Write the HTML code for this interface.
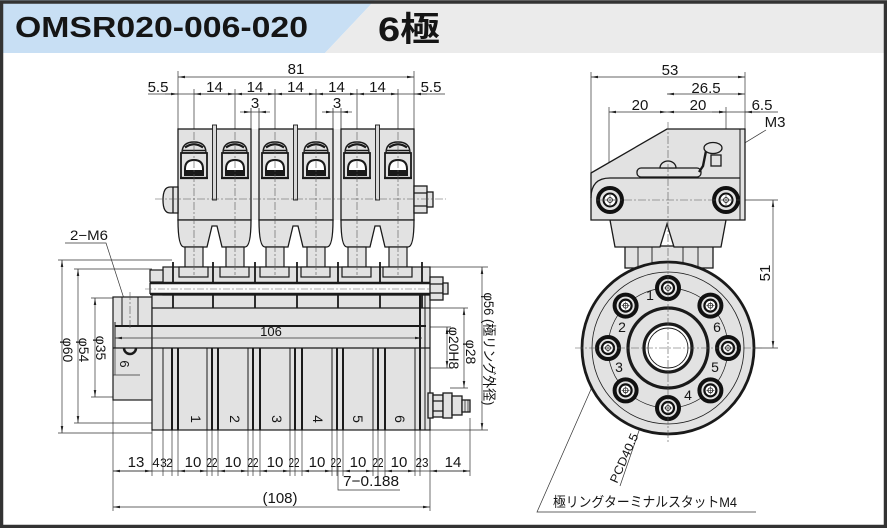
<!DOCTYPE html>
<html><head><meta charset="utf-8">
<style>
html,body{margin:0;padding:0;background:#fff;}
svg{display:block;}
text{font-family:"Liberation Sans","Noto Sans CJK JP",sans-serif;fill:#151515;}
</style></head><body>
<svg width="887" height="528" viewBox="0 0 887 528" xmlns="http://www.w3.org/2000/svg">
<defs>
<marker id="a" viewBox="0 0 10 10" refX="10" refY="5" markerUnits="userSpaceOnUse" markerWidth="7" markerHeight="7" orient="auto-start-reverse"><path d="M0,3.2 L10,5 L0,6.8 z" fill="#222"/></marker>
<g id="hd">
 <path d="M-12,153 Q-12,142 0,142 Q12,142 12,153 Z" fill="#e2e2e2" stroke="#1a1a1a" stroke-width="1.4"/>
 <path d="M-9,147.5 Q0,141 9,147.5" stroke="#1a1a1a" stroke-width="2.2" fill="none"/>
 <line x1="-11" y1="150.5" x2="11" y2="150.5" stroke="#1a1a1a" stroke-width="1.4"/>
 <rect x="-13" y="153" width="26" height="25" fill="#e2e2e2" stroke="#1a1a1a" stroke-width="1.8"/>
 <path d="M-9,175 V169 Q-9,160 0,160 Q9,160 9,169 V175 Z" fill="#fff" stroke="#1a1a1a" stroke-width="2"/>
 <rect x="-9" y="170" width="18" height="5" fill="#1a1a1a"/>
 <line x1="-14" y1="178" x2="14" y2="178" stroke="#1a1a1a" stroke-width="2.2"/>
</g>
<g id="sf">
 <rect x="-9" y="247" width="18" height="20" fill="#e2e2e2" stroke="#1a1a1a" stroke-width="1.2"/>
</g>
<g id="ft">
 <rect x="-15" y="267" width="29" height="10" fill="#e2e2e2" stroke="#1a1a1a" stroke-width="1.2"/>
</g>
<g id="hole">
 <circle r="11" fill="#e2e2e2" stroke="#111" stroke-width="4"/>
 <circle r="6" fill="#fff" stroke="#111" stroke-width="2.2"/>
 <circle r="2.5" fill="none" stroke="#111" stroke-width="0.8"/>
 <path d="M-4,0H4M0,-4V4" stroke="#111" stroke-width="0.5"/>
</g>
<g id="bolt">
 <circle r="12" fill="#e2e2e2" stroke="#111" stroke-width="4"/>
 <circle r="6.5" fill="#fff" stroke="#111" stroke-width="2"/>
 <circle r="2.5" fill="none" stroke="#111" stroke-width="0.8"/>
 <path d="M-5,0H5M0,-5V5" stroke="#111" stroke-width="0.5"/>
</g>
</defs>
<rect width="887" height="528" fill="#fff"/>

<!-- header -->
<polygon points="0,0 375,0 325,53 0,53" fill="#c8dff4"/>
<polygon points="375,0 887,0 887,53 325,53" fill="#ebebeb"/>
<rect x="1.5" y="2" width="884" height="524.5" fill="none" stroke="#333" stroke-width="3.5"/>
<text x="15" y="37" font-size="29" font-weight="bold" textLength="293" lengthAdjust="spacingAndGlyphs">OMSR020-006-020</text>
<text x="378" y="41" font-size="34" font-weight="bold" textLength="62" lengthAdjust="spacingAndGlyphs">6極</text>

<!-- ================= LEFT VIEW : dimensions ================= -->
<g stroke="#333" stroke-width="0.7" fill="none">
 <path d="M178,71V129 M414,71V129 M194,89V129 M235,89V129 M275,89V129 M316,89V129 M357,89V129 M398,89V129"/>
 <line x1="178" y1="77" x2="414" y2="77" marker-start="url(#a)" marker-end="url(#a)"/>
 <line x1="148" y1="94" x2="445" y2="94"/>
 <line x1="194" y1="94" x2="235" y2="94" marker-start="url(#a)" marker-end="url(#a)"/>
 <line x1="235" y1="94" x2="275" y2="94" marker-start="url(#a)" marker-end="url(#a)"/>
 <line x1="275" y1="94" x2="316" y2="94" marker-start="url(#a)" marker-end="url(#a)"/>
 <line x1="316" y1="94" x2="357" y2="94" marker-start="url(#a)" marker-end="url(#a)"/>
 <line x1="357" y1="94" x2="398" y2="94" marker-start="url(#a)" marker-end="url(#a)"/>
 <line x1="165" y1="94" x2="178" y2="94" marker-end="url(#a)"/>
 <line x1="427" y1="94" x2="414" y2="94" marker-end="url(#a)"/>
 <line x1="240" y1="112" x2="251" y2="112" marker-end="url(#a)"/>
 <line x1="270" y1="112" x2="259" y2="112" marker-end="url(#a)"/>
 <line x1="322" y1="112" x2="333" y2="112" marker-end="url(#a)"/>
 <line x1="352" y1="112" x2="341" y2="112" marker-end="url(#a)"/>
 <line x1="251" y1="112" x2="259" y2="112"/>
 <line x1="333" y1="112" x2="341" y2="112"/>

 <!-- left phi dims -->
 <path d="M58,260H172 M74,269H152 M91,298H113 M91,397H113 M74,423H152 M58,433H152"/>
 <line x1="62" y1="260" x2="62" y2="433" marker-start="url(#a)" marker-end="url(#a)"/>
 <line x1="78" y1="269" x2="78" y2="423" marker-start="url(#a)" marker-end="url(#a)"/>
 <line x1="95" y1="298" x2="95" y2="397" marker-start="url(#a)" marker-end="url(#a)"/>
 <!-- 2-M6 leader -->
 <path d="M65,243H106 L127,308"/>
 <!-- right phi dims -->
 <path d="M430,267H488 M430,430H488 M430,308H468 M450,388H468 M425,327H451 M425,368H451"/>
 <line x1="482" y1="267" x2="482" y2="430" marker-start="url(#a)" marker-end="url(#a)"/>
 <line x1="464" y1="308" x2="464" y2="388" marker-start="url(#a)" marker-end="url(#a)"/>
 <line x1="447" y1="327" x2="447" y2="368" marker-start="url(#a)" marker-end="url(#a)"/>

 <!-- bottom ext lines -->
 <path d="M113,400V511 M430,430V511 M470,418V476 M152,430V476 M163,430V476 M172,430V476 M178,430V476 M207,430V476 M212,430V476 M218,430V476 M248,430V476 M253,430V476 M260,430V476 M290,430V476 M295,430V476 M302,430V476 M332,430V476 M337,430V476 M343,430V476 M373,430V476 M378,430V476 M385,430V476 M415,430V476 M420,430V476"/>
 <line x1="113" y1="471" x2="470" y2="471"/>
 <line x1="113" y1="471" x2="152" y2="471" marker-start="url(#a)" marker-end="url(#a)"/>
 <line x1="178" y1="471" x2="207" y2="471" marker-start="url(#a)" marker-end="url(#a)"/>
 <line x1="218" y1="471" x2="248" y2="471" marker-start="url(#a)" marker-end="url(#a)"/>
 <line x1="260" y1="471" x2="290" y2="471" marker-start="url(#a)" marker-end="url(#a)"/>
 <line x1="302" y1="471" x2="332" y2="471" marker-start="url(#a)" marker-end="url(#a)"/>
 <line x1="343" y1="471" x2="373" y2="471" marker-start="url(#a)" marker-end="url(#a)"/>
 <line x1="385" y1="471" x2="415" y2="471" marker-start="url(#a)" marker-end="url(#a)"/>
 <line x1="430" y1="471" x2="470" y2="471" marker-start="url(#a)" marker-end="url(#a)"/>
 <line x1="113" y1="507" x2="430" y2="507" marker-start="url(#a)" marker-end="url(#a)"/>
 <path d="M338,466V490H400"/>
</g>

<!-- ================= LEFT VIEW : body ================= -->
<g stroke="#1a1a1a" stroke-width="1.2" fill="#e2e2e2">
 <rect x="113" y="297" width="39" height="103"/>
 <rect x="152" y="295" width="278" height="135"/>
 <rect x="163" y="267" width="267" height="28"/>
 <rect x="150" y="270" width="13" height="12"/>
</g>
<rect x="150" y="283" width="282" height="11" fill="#fafafa"/>
<g stroke="#1a1a1a" fill="none">
 <line x1="150" y1="283" x2="432" y2="283" stroke-width="2.5"/>
 <line x1="150" y1="294" x2="432" y2="294" stroke-width="2.5"/>
 <line x1="150" y1="283" x2="150" y2="294" stroke-width="1.2"/>
 <line x1="152" y1="308" x2="430" y2="308" stroke-width="1.2"/>
 <path d="M173,262V282 M213,262V282 M255,262V282 M297,262V282 M338,262V282 M380,262V282 M422,262V282 M173,295V308 M213,295V308 M255,295V308 M297,295V308 M338,295V308 M380,295V308 M422,295V308" stroke-width="1.8"/>
 <line x1="115" y1="326" x2="426" y2="326" stroke-width="2"/>
 <line x1="115" y1="322" x2="115" y2="348" stroke-width="1"/>
 <line x1="113" y1="348" x2="430" y2="348" stroke-width="1.2"/>
 <path d="M122,297V327 M138,297V327" stroke-width="1"/>
 <path d="M124,348 A6,6 0 0 0 136,348" stroke-width="2.5"/>
 <path d="M115,348V375 M113,375H140" stroke-width="0.7" stroke="#333"/>
 <path d="M163,348V430 M207,348V430 M248,348V430 M290,348V430 M332,348V430 M373,348V430 M415,348V430 M425,295V430" stroke-width="1"/>
 <path d="M172,348V430 M178,348V430 M212,348V430 M218,348V430 M253,348V430 M260,348V430 M295,348V430 M302,348V430 M337,348V430 M343,348V430 M378,348V430 M385,348V430 M420,295V430" stroke-width="2"/>
</g>
<line x1="115" y1="338" x2="422" y2="338" stroke="#333" stroke-width="0.7" marker-start="url(#a)" marker-end="url(#a)"/>
<line x1="145" y1="289" x2="440" y2="289" stroke="#666" stroke-width="0.6" stroke-dasharray="7,2,2,2"/>

<!-- right studs -->
<g stroke="#1a1a1a" stroke-width="1.3" fill="#e2e2e2">
 <rect x="430" y="277" width="13" height="23"/>
 <path d="M430,284H443 M430,293H443" fill="none"/>
 <rect x="443" y="283" width="5" height="11"/>
 <rect x="428" y="393" width="5" height="25"/>
 <rect x="433" y="395" width="10" height="22"/>
 <path d="M433,401H443 M433,411H443" fill="none"/>
 <rect x="443" y="393" width="9" height="25"/>
 <rect x="452" y="396" width="10" height="19"/>
 <rect x="462" y="400" width="8" height="12"/>
 <path d="M465,400V412 M468,400V412" fill="none" stroke-width="0.7"/>
</g>

<!-- gaps between blocks -->
<rect x="251" y="129" width="8" height="91" fill="#ececec"/>
<rect x="333" y="129" width="8" height="91" fill="#ececec"/>
<path d="M251,108V220 M259,108V220 M333,108V220 M341,108V220" stroke="#333" stroke-width="0.8" fill="none"/>

<!-- upper blocks -->
<g stroke="#1a1a1a" stroke-width="1.3" fill="#e2e2e2">
 <rect x="178" y="129" width="73" height="91"/>
 <rect x="259" y="129" width="74" height="91"/>
 <rect x="341" y="129" width="73" height="91"/>
 <path d="M178,220 C178,238 180,247 184,247 L207,247 L212,226 L217,226 L222,247 L245,247 C249,247 251,238 251,220 Z"/>
 <path d="M259,220 C259,238 261,247 265,247 L288,247 L293,226 L298,226 L303,247 L327,247 C331,247 333,238 333,220 Z"/>
 <path d="M341,220 C341,238 343,247 347,247 L370,247 L375,226 L380,226 L385,247 L408,247 C412,247 414,238 414,220 Z"/>
 <rect x="212.5" y="125" width="4" height="75" fill="#d8d8d8" stroke-width="0.9"/>
 <rect x="293.5" y="125" width="4" height="75" fill="#d8d8d8" stroke-width="0.9"/>
 <rect x="375.5" y="125" width="4" height="75" fill="#d8d8d8" stroke-width="0.9"/>
 <path d="M178,187 L170,187 Q163,187 163,200 Q163,213 170,213 L178,213 Z"/>
 <line x1="173" y1="187" x2="173" y2="213"/>
 <rect x="414" y="186" width="13" height="27"/>
 <path d="M414,193H427 M414,206H427" fill="none"/>
 <rect x="427" y="192" width="6" height="15"/>
</g>
<use href="#sf" x="194"/><use href="#sf" x="235"/><use href="#sf" x="275"/><use href="#sf" x="316"/><use href="#sf" x="357"/><use href="#sf" x="398"/>
<use href="#ft" x="194"/><use href="#ft" x="235"/><use href="#ft" x="275"/><use href="#ft" x="316"/><use href="#ft" x="357"/><use href="#ft" x="398"/>
<use href="#hd" x="194"/><use href="#hd" x="235"/><use href="#hd" x="275"/><use href="#hd" x="316"/><use href="#hd" x="357"/><use href="#hd" x="398"/>

<g stroke="#555" stroke-width="0.6" stroke-dasharray="8,2,2,2" fill="none">
 <path d="M155,199H446 M194,132V275 M235,132V275 M275,132V275 M316,132V275 M357,132V275 M398,132V275 M130,292V330"/>
</g>

<g font-size="15" text-anchor="middle">
 <text x="296" y="74">81</text>
 <text x="158" y="92">5.5</text>
 <text x="431" y="92">5.5</text>
 <text x="214.5" y="92">14</text>
 <text x="255" y="92">14</text>
 <text x="295.5" y="92">14</text>
 <text x="336.5" y="92">14</text>
 <text x="377.5" y="92">14</text>
 <text x="255" y="108">3</text>
 <text x="337" y="108">3</text>
 <text x="271" y="336" font-size="13">106</text>
 <text x="280" y="503">(108)</text>
</g>
<g font-size="15" text-anchor="middle">
 <text x="136" y="467">13</text>
 <text x="156" y="467" font-size="13">4</text>
 <text x="163.5" y="467" font-size="12">3</text>
 <text x="169.5" y="467" font-size="12">2</text>
 <text x="193" y="467">10</text>
 <text x="212" y="467" font-size="13" textLength="11" lengthAdjust="spacingAndGlyphs">22</text>
 <text x="233" y="467">10</text>
 <text x="253" y="467" font-size="13" textLength="11" lengthAdjust="spacingAndGlyphs">22</text>
 <text x="275" y="467">10</text>
 <text x="294" y="467" font-size="13" textLength="11" lengthAdjust="spacingAndGlyphs">22</text>
 <text x="317" y="467">10</text>
 <text x="336" y="467" font-size="13" textLength="11" lengthAdjust="spacingAndGlyphs">22</text>
 <text x="358" y="467">10</text>
 <text x="378" y="467" font-size="13" textLength="11" lengthAdjust="spacingAndGlyphs">22</text>
 <text x="399" y="467">10</text>
 <text x="422" y="467" font-size="13" textLength="13" lengthAdjust="spacingAndGlyphs">23</text>
 <text x="453" y="467">14</text>
</g>
<text x="343" y="486" font-size="15" textLength="56" lengthAdjust="spacingAndGlyphs">7−0.188</text>
<text x="70" y="240" font-size="14" textLength="38" lengthAdjust="spacingAndGlyphs">2−M6</text>
<g font-size="14" text-anchor="middle">
 <text transform="translate(63,350) rotate(90)">φ60</text>
 <text transform="translate(79,350) rotate(90)">φ54</text>
 <text transform="translate(96,348) rotate(90)">φ35</text>
 <text transform="translate(120,364) rotate(90)" font-size="13">6</text>
 <text transform="translate(484,349) rotate(90)" textLength="113" lengthAdjust="spacingAndGlyphs">φ56 (極リング外径)</text>
 <text transform="translate(466,352) rotate(90)">φ28</text>
 <text transform="translate(449,348) rotate(90)">φ20H8</text>
 <text transform="translate(191,419) rotate(90)">1</text>
 <text transform="translate(230,419) rotate(90)">2</text>
 <text transform="translate(272,419) rotate(90)">3</text>
 <text transform="translate(313,419) rotate(90)">4</text>
 <text transform="translate(353,419) rotate(90)">5</text>
 <text transform="translate(395,419) rotate(90)">6</text>
</g>

<!-- ================= RIGHT VIEW ================= -->
<g stroke="#333" stroke-width="0.7" fill="none">
 <path d="M591,72V173 M745,72V129 M609,107V200 M726,107V200 M740,200H778 M745,348H778"/>
 <line x1="591" y1="77" x2="745" y2="77" marker-start="url(#a)" marker-end="url(#a)"/>
 <line x1="667" y1="94" x2="745" y2="94" marker-start="url(#a)" marker-end="url(#a)"/>
 <line x1="609" y1="112" x2="667" y2="112" marker-start="url(#a)" marker-end="url(#a)"/>
 <line x1="667" y1="112" x2="726" y2="112" marker-start="url(#a)" marker-end="url(#a)"/>
 <line x1="726" y1="112" x2="778" y2="112"/>
 <line x1="712" y1="112" x2="726" y2="112" marker-end="url(#a)"/>
 <line x1="760" y1="112" x2="745" y2="112" marker-end="url(#a)"/>
 <line x1="773" y1="200" x2="773" y2="348" marker-start="url(#a)" marker-end="url(#a)"/>
 <path d="M766,130 L720,158"/>
 <path d="M688,288 L620,486"/>
 <path d="M603,362 L537,512 H756"/>
</g>
<g stroke="#1a1a1a" stroke-width="1.3" fill="#e2e2e2">
 <rect x="625" y="246" width="88" height="22"/>
 <path d="M638,246V268 M652,246V268 M683,246V268 M698,246V268" fill="none" stroke-width="0.9"/>
 <path d="M610,220 L615,247 L660,247 L667,224 L674,247 L721,247 L726,220 Z"/>
 <polygon points="591,173 667,129 745,129 745,220 591,220"/>
 <path d="M740,129V220" fill="none" stroke-width="1"/>
 <path d="M591,198 Q591,178 610,178 L740,178" fill="none" stroke-width="1.2"/>
 <rect x="637" y="168" width="64" height="9" rx="4"/>
 <path d="M660,168 A8,7 0 0 1 676,168 Z"/>
 <path d="M699,172 L703,166 L706,151 L716,148" fill="none" stroke-width="2.4"/>
 <rect x="711" y="155" width="10" height="11"/>
 <ellipse cx="713" cy="148" rx="9" ry="5.5"/>
 <circle cx="668" cy="348" r="86" stroke-width="2.8"/>
 <circle cx="668" cy="348" r="76" fill="none" stroke-width="0.8"/>
 <circle cx="668" cy="348" r="60" fill="none" stroke-width="0.7"/>
 <circle cx="668" cy="348" r="40" stroke-width="3.2"/>
 <circle cx="668" cy="348" r="24" fill="#fff" stroke-width="3.2"/>
 <circle cx="668" cy="348" r="20" fill="none" stroke-width="0.9"/>
</g>
<use href="#bolt" x="610" y="200"/>
<use href="#bolt" x="726" y="200"/>
<use href="#hole" x="668" y="288"/>
<use href="#hole" x="710.4" y="305.6"/>
<use href="#hole" x="728" y="348"/>
<use href="#hole" x="710.4" y="390.4"/>
<use href="#hole" x="668" y="408"/>
<use href="#hole" x="625.6" y="390.4"/>
<use href="#hole" x="608" y="348"/>
<use href="#hole" x="625.6" y="305.6"/>
<g stroke="#555" stroke-width="0.6" stroke-dasharray="8,2,2,2" fill="none">
 <path d="M668,122V443 M575,348H762 M596,200H740"/>
</g>
<g font-size="15" text-anchor="middle">
 <text x="670" y="75">53</text>
 <text x="706" y="93">26.5</text>
 <text x="640" y="110">20</text>
 <text x="698" y="110">20</text>
 <text x="762" y="110">6.5</text>
 <text x="775" y="127">M3</text>
 <text transform="translate(770,273) rotate(-90)">51</text>
</g>
<g font-size="14" text-anchor="middle">
 <text x="650" y="300">1</text>
 <text x="622" y="332">2</text>
 <text x="619" y="372">3</text>
 <text x="688" y="400">4</text>
 <text x="715" y="372">5</text>
 <text x="717" y="332">6</text>
</g>
<text transform="translate(617,484) rotate(-66)" font-size="12" textLength="53" lengthAdjust="spacingAndGlyphs">PCD40.5</text>
<text x="553" y="507" font-size="14" textLength="184" lengthAdjust="spacingAndGlyphs">極リングターミナルスタットM4</text>
</svg>
</body></html>
